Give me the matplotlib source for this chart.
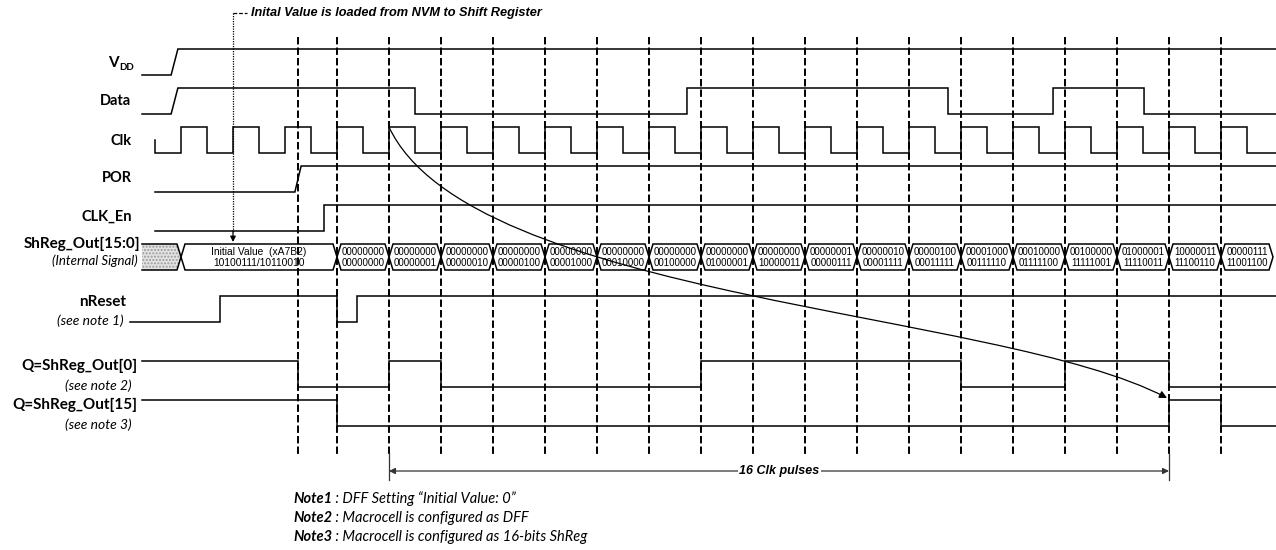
import numpy as np
import matplotlib
matplotlib.use('Agg')
import matplotlib.pyplot as plt
from matplotlib.path import Path
from matplotlib.patches import FancyArrowPatch, Polygon

# ---- data (time in Clk periods, 0 = first rising Clk edge) ----
clk_rise     = [0, 1, 2, 3, 4, 5, 6, 7, 8, 9, 10, 11, 12, 13, 14, 15, 16, 17, 18, 19, 20]
vdd_edges    = [-0.19]
data_edges   = [-0.19, 4.5, 9.73, 14.75, 16.77, 18.52]
por_edges    = [2.19]
clken_edges  = [2.75]
nreset_edges = [0.75, 3.0, 3.38]
q0_edges     = [2.25, 4, 5, 10, 15, 17, 19]
q15_edges    = [3, 19, 20]
marker_t     = [2.25, 3, 4, 5, 6, 7, 8, 9, 10, 11, 12, 13, 14, 15, 16, 17, 18, 19, 20]
load_t       = 1.0
pulse_span   = [4, 19]

bus_edges = [0, 3, 4, 5, 6, 7, 8, 9, 10, 11, 12, 13, 14, 15, 16, 17, 18, 19, 20, 21]
bus_hi = ['Initial Value  (xA7B2)',
          '00000000', '00000000', '00000000', '00000000', '00000000', '00000000',
          '00000000', '00000000', '00000000', '00000001', '00000010', '00000100',
          '00001000', '00010000', '00100000', '01000001', '10000011', '00000111']
bus_lo = ['10100111/10110010',
          '00000000', '00000001', '00000010', '00000100', '00001000', '00010000',
          '00100000', '01000001', '10000011', '00000111', '00001111', '00011111',
          '00111110', '01111100', '11111001', '11110011', '11100110', '11001100']

# ---- layout (pixels) ----
X0, PER = 181, 52
def X(t):
    return X0 + np.asarray(t, dtype=float) * PER

LBL = ['Lato', 'DejaVu Sans']
ARL = ['Liberation Sans', 'DejaVu Sans']
LW = 1.1

fig = plt.figure(figsize=(12.76, 5.5), dpi=100)
ax = fig.add_axes([0, 0, 1, 1])
ax.set_xlim(0, 1276)
ax.set_ylim(550, 0)
ax.axis('off')


def wave(edges, lv, t0, t1, ramp=0.0):
    xs, ys = [t0], [lv]
    for e in edges:
        xs += [e, e + ramp]
        ys += [lv, 1 - lv]
        lv = 1 - lv
    xs.append(t1)
    ys.append(lv)
    return np.array(xs), np.array(ys)


def draw(xs, ys, hi, lo):
    ax.plot(X(xs), lo - ys * (lo - hi), color='black', lw=LW, solid_joinstyle='miter')


T_END = 21.2
# VDD / Data
xs, ys = wave(vdd_edges, 0, -0.75, T_END, ramp=0.13)
draw(xs, ys, 49, 75)
xs, ys = wave(data_edges[:1], 0, -0.75, data_edges[1], ramp=0.13)
xs2, ys2 = wave(data_edges[1:], 1, data_edges[1], T_END)
draw(np.r_[xs, xs2], np.r_[ys, ys2], 88, 114)

# Clk
clk_edges = []
for r in clk_rise:
    clk_edges += [r, r + 0.5]
xs, ys = wave(clk_edges, 0, -0.5, T_END)
draw(np.r_[-0.5, xs], np.r_[0.5, ys], 127, 153)

# POR, CLK_En
xs, ys = wave(por_edges, 0, -0.5, T_END, ramp=0.12)
draw(xs, ys, 166, 192)
xs, ys = wave(clken_edges, 0, -0.5, T_END)
draw(xs, ys, 205, 231)

# nReset, Q0, Q15
xs, ys = wave(nreset_edges, 0, -0.98, T_END)
draw(xs, ys, 296, 322)
xs, ys = wave(q0_edges, 1, -0.75, T_END)
draw(xs, ys, 361, 387)
xs, ys = wave(q15_edges, 1, -0.75, T_END)
draw(xs, ys, 400, 426)

# bus ShReg_Out[15:0]
top, bot = 244, 270
mid = (top + bot) / 2
d = 4
hx = [142, X0 - d, X0, X0 - d, 142]
hy = [top, top, mid, bot, bot]
ax.add_patch(Polygon(list(zip(hx, hy)), closed=True, facecolor='#e4e4e4',
                     edgecolor='#9a9a9a', hatch='.....', lw=0))
ax.plot(hx, hy, color='black', lw=LW)
for i in range(len(bus_edges) - 1):
    a, b = X(bus_edges[i]), X(bus_edges[i + 1])
    pts = [(a + d, top), (b - d, top), (b, mid), (b - d, bot), (a + d, bot), (a, mid)]
    ax.add_patch(Polygon(pts, closed=True, facecolor='white', edgecolor='black', lw=LW))
    fs = 7.4 if i == 0 else 7.0
    cx = (a + b) / 2
    ax.text(cx, mid - 5, bus_hi[i], ha='center', va='center', fontsize=fs, family=ARL)
    ax.text(cx, mid + 6, bus_lo[i], ha='center', va='center', fontsize=fs, family=ARL)

# dashed clock markers
for t in marker_t:
    ax.plot([X(t), X(t)], [37, 455], color='black', lw=1.4, ls=(0, (3.8, 1.6)), zorder=1)

# NVM load marker
ax.plot([X(load_t), X(load_t)], [13, 232], color='black', lw=0.9, ls=(0, (1, 1)))
ax.plot([X(load_t), X(load_t) + 14], [13, 13], color='black', lw=0.9, ls=(0, (3, 1.5)))
ax.annotate('', xy=(X(load_t), 242), xytext=(X(load_t), 231),
            arrowprops=dict(arrowstyle='-|>', lw=0.9, color='black',
                            mutation_scale=8, shrinkA=0, shrinkB=0))
ax.text(X(load_t) + 18, 13, 'Inital Value is loaded from NVM to Shift Register',
        ha='left', va='center', fontsize=9.2, fontweight='bold', style='italic', family=ARL)

# curved arrow: Clk edge -> Q15
verts = [(X(pulse_span[0]), 127), (470, 300), (1000, 310), (X(pulse_span[1]) - 2, 398)]
path = Path(verts, [Path.MOVETO, Path.CURVE4, Path.CURVE4, Path.CURVE4])
ax.add_patch(FancyArrowPatch(path=path, arrowstyle='-|>', mutation_scale=11,
                             color='black', lw=0.9, zorder=5))

# 16 Clk pulses
for t in pulse_span:
    ax.plot([X(t), X(t)], [453, 480], color='#333333', lw=0.9)
ax.annotate('', xy=(X(pulse_span[0]), 471), xytext=(X(pulse_span[1]), 471),
            arrowprops=dict(arrowstyle='<|-|>', lw=0.9, color='#333333',
                            mutation_scale=9, shrinkA=0, shrinkB=0))
ax.text((X(pulse_span[0]) + X(pulse_span[1])) / 2, 471, '16 Clk pulses',
        ha='center', va='center', fontsize=9, fontweight='bold', style='italic',
        family=ARL, bbox=dict(facecolor='white', edgecolor='none', pad=1))

# signal labels
def lbl(x, y, s, size=11, bold=True, italic=False):
    ax.text(x, y, s, ha='right', va='center', fontsize=size,
            fontweight='bold' if bold else 'normal',
            style='italic' if italic else 'normal', family=LBL)

ax.text(119, 63, 'V', ha='right', va='center', fontsize=11, fontweight='bold', family=LBL)
ax.text(119, 67, 'DD', ha='left', va='center', fontsize=7, fontweight='bold', family=LBL)
lbl(131, 101, 'Data', size=10.5)
lbl(132, 141, 'Clk', size=10.5)
lbl(132, 178, 'POR', size=10.5)
lbl(132, 217, 'CLK_En', size=10.5)
lbl(140, 244, 'ShReg_Out[15:0]')
lbl(138, 261, '(Internal Signal)', size=9.5, bold=False, italic=True)
lbl(126, 302, 'nReset')
lbl(124, 321, '(see note 1)', size=10, bold=False, italic=True)
lbl(137, 366, 'Q=ShReg_Out[0]')
lbl(132, 386, '(see note 2)', size=10, bold=False, italic=True)
lbl(137, 405, 'Q=ShReg_Out[15]')
lbl(132, 425, '(see note 3)', size=10, bold=False, italic=True)

# notes
notes = [('Note1', ' : DFF Setting \u201cInitial Value: 0\u201d'),
         ('Note2', ' : Macrocell is configured as DFF'),
         ('Note3', ' : Macrocell is configured as 16-bits ShReg')]
for i, (head, rest) in enumerate(notes):
    t1 = ax.text(293, 499 + 19 * i, head, ha='left', va='center', fontsize=10.5,
                 fontweight='bold', style='italic', family=LBL)
    ax.annotate(rest, xy=(1, 0.5), xycoords=t1, ha='left', va='center', fontsize=10.5,
                style='italic', family=LBL)

plt.savefig('out.png', dpi=100)
